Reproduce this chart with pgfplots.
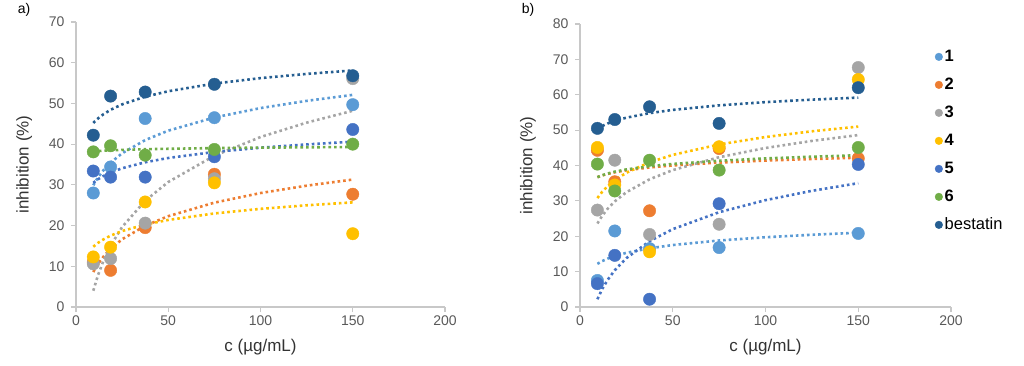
\documentclass[border=0pt]{standalone}
\usepackage{fontspec}
\setmainfont{Liberation Sans}
\usepackage{pgfplots}
\pgfplotsset{compat=1.18}
\definecolor{c1}{HTML}{5B9BD5}
\definecolor{c2}{HTML}{ED7D31}
\definecolor{c3}{HTML}{A5A5A5}
\definecolor{c4}{HTML}{FFC000}
\definecolor{c5}{HTML}{4472C4}
\definecolor{c6}{HTML}{70AD47}
\definecolor{c7}{HTML}{255E91}
\definecolor{axisgray}{HTML}{C8C8C8}
\definecolor{ticktext}{HTML}{595959}
\definecolor{labtext}{HTML}{333333}
\pgfplotsset{
  myax/.style={
    scale only axis,
    axis x line*=bottom, axis y line*=left,
    axis line style={axisgray, line width=1.3pt},
    xmin=0, xmax=200, xtick={0,50,100,150,200}, ymin=0,
    tick align=outside, major tick length=5pt,
    tick style={axisgray, line width=1.1pt},
    ticklabel style={font=\fontsize{14}{16}\selectfont, text=ticktext},
    yticklabel style={xshift=-3pt},
    /pgf/number format/assume math mode=true,
    xlabel={c (µg/mL)}, ylabel={inhibition (\%)},
    label style={font=\fontsize{17}{19}\selectfont, text=labtext},
    x label style={at={(axis description cs:0.5,-0.14)}, anchor=center},
    y label style={at={(axis description cs:-0.14,0.5)}, anchor=center},
    clip=false,
  },
  tr/.style={no marks, line width=2.6pt, dash pattern=on 2.6pt off 3pt, forget plot},
  pt/.style={only marks, mark=*, mark size=6.2pt, mark options={draw=none}, forget plot},
}
\begin{document}
\begin{tikzpicture}
\useasboundingbox (0,0) rectangle (1024pt,365pt);
\node[font=\fontsize{14}{16}\selectfont, anchor=center] at (24pt,355pt) {a)};
\node[font=\fontsize{14}{16}\selectfont, anchor=center] at (528pt,355pt) {b)};
% ---------------- panel a
\begin{axis}[myax, at={(76pt,58pt)}, anchor=south west, width=369pt, height=285pt,
  ymax=70, ytick={0,10,...,70}]
\addplot[tr, c1] coordinates {(9.375,29.9)(12,31.88)(15,33.65)(18.75,35.45)(25,37.76)(37.5,41.0)(50,43.31)(75,46.55)(100,48.86)(125,50.63)(150,52.1)};
\addplot[tr, c2] coordinates {(9.375,8.6)(12,10.62)(15,12.44)(18.75,14.28)(25,16.64)(37.5,19.95)(50,22.31)(75,25.63)(100,27.99)(125,29.80)(150,31.3)};
\addplot[tr, c3] coordinates {(9.375,4.0)(12,7.93)(15,11.47)(18.75,15.05)(25,19.65)(37.5,26.1)(50,30.70)(75,37.15)(100,41.75)(125,45.28)(150,48.2)};
\addplot[tr, c4] coordinates {(9.375,14.8)(12,15.77)(15,16.64)(18.75,17.53)(25,18.66)(37.5,20.25)(50,21.38)(75,22.98)(100,24.11)(125,24.98)(150,25.7)};
\addplot[tr, c5] coordinates {(9.375,30.5)(12,31.40)(15,32.21)(18.75,33.03)(25,34.08)(37.5,35.55)(50,36.60)(75,38.08)(100,39.13)(125,39.93)(150,40.6)};
\addplot[tr, c6] coordinates {(9.375,38.2)(12,38.30)(15,38.39)(18.75,38.48)(25,38.59)(37.5,38.75)(50,38.86)(75,39.03)(100,39.14)(125,39.23)(150,39.3)};
\addplot[tr, c7] coordinates {(9.375,45.2)(12,46.35)(15,47.38)(18.75,48.43)(25,49.77)(37.5,51.65)(50,52.99)(75,54.88)(100,56.22)(125,57.25)(150,58.1)};
\addplot[pt, c1] coordinates {(9.375,28.0)(18.75,34.4)(37.5,46.3)(75,46.5)(150,49.7)};
\addplot[pt, c2] coordinates {(9.375,11.0)(18.75,9.0)(37.5,19.5)(75,32.6)(150,27.7)};
\addplot[pt, c3] coordinates {(9.375,10.6)(18.75,11.9)(37.5,20.6)(75,31.5)(150,56.1)};
\addplot[pt, c4] coordinates {(9.375,12.3)(18.75,14.7)(37.5,25.8)(75,30.5)(150,18.0)};
\addplot[pt, c5] coordinates {(9.375,33.4)(18.75,31.9)(37.5,31.9)(75,36.9)(150,43.6)};
\addplot[pt, c6] coordinates {(9.375,38.1)(18.75,39.6)(37.5,37.3)(75,38.7)(150,40.0)};
\addplot[pt, c7] coordinates {(9.375,42.2)(18.75,51.8)(37.5,52.8)(75,54.7)(150,56.8)};
\end{axis}
% ---------------- panel b
\begin{axis}[myax, at={(580pt,58pt)}, anchor=south west, width=371pt, height=283pt,
  ymax=80, ytick={0,10,...,80},
  legend style={at={(axis cs:191.4,73.4)}, anchor=north west, draw=none, fill=none,
    inner sep=0pt, outer sep=0pt, row sep=9pt,
    font=\fontsize{16.5}{19}\selectfont,
    nodes={text height=12pt, text depth=3pt, inner sep=2pt}},
  legend cell align=left,
  legend image code/.code={\draw[#1] plot coordinates {(0pt,0pt)};}]
\addplot[tr, c1] coordinates {(9.375,12.2)(12,12.98)(15,13.69)(18.75,14.4)(25,15.32)(37.5,16.6)(50,17.52)(75,18.8)(100,19.72)(125,20.42)(150,21.0)};
\addplot[tr, c2] coordinates {(9.375,36.7)(12,37.19)(15,37.63)(18.75,38.08)(25,38.65)(37.5,39.45)(50,40.02)(75,40.83)(100,41.40)(125,41.84)(150,42.2)};
\addplot[tr, c3] coordinates {(9.375,23.6)(12,25.83)(15,27.83)(18.75,29.85)(25,32.45)(37.5,36.1)(50,38.70)(75,42.35)(100,44.95)(125,46.95)(150,48.6)};
\addplot[tr, c4] coordinates {(9.375,30.8)(12,32.60)(15,34.21)(18.75,35.85)(25,37.95)(37.5,40.9)(50,43.0)(75,45.95)(100,48.05)(125,49.67)(150,51.0)};
\addplot[tr, c5] coordinates {(9.375,2.2)(12,5.12)(15,7.74)(18.75,10.4)(25,13.81)(37.5,18.6)(50,22.01)(75,26.8)(100,30.21)(125,32.84)(150,35.0)};
\addplot[tr, c6] coordinates {(9.375,36.7)(12,37.25)(15,37.75)(18.75,38.25)(25,38.89)(37.5,39.8)(50,40.44)(75,41.35)(100,42.0)(125,42.49)(150,42.9)};
\addplot[tr, c7] coordinates {(9.375,50.4)(12,51.18)(15,51.89)(18.75,52.6)(25,53.52)(37.5,54.8)(50,55.72)(75,57.0)(100,57.92)(125,58.62)(150,59.2)};
\addplot[pt, c1] coordinates {(9.375,7.5)(18.75,21.5)(37.5,16.5)(75,16.8)(150,20.8)};
\addplot[pt, c2] coordinates {(9.375,44.3)(18.75,35.4)(37.5,27.2)(75,44.8)(150,42.0)};
\addplot[pt, c3] coordinates {(9.375,27.4)(18.75,41.5)(37.5,20.5)(75,23.4)(150,67.7)};
\addplot[pt, c4] coordinates {(9.375,45.1)(18.75,34.5)(37.5,15.6)(75,45.3)(150,64.3)};
\addplot[pt, c5] coordinates {(9.375,6.6)(18.75,14.6)(37.5,2.2)(75,29.2)(150,40.3)};
\addplot[pt, c6] coordinates {(9.375,40.4)(18.75,32.8)(37.5,41.5)(75,38.7)(150,45.1)};
\addplot[pt, c7] coordinates {(9.375,50.5)(18.75,53.0)(37.5,56.6)(75,51.9)(150,62.0)};
\addlegendimage{only marks, mark=*, mark size=3.8pt, mark options={draw=none}, c1}
\addlegendentry{\textbf{1}}
\addlegendimage{only marks, mark=*, mark size=3.8pt, mark options={draw=none}, c2}
\addlegendentry{\textbf{2}}
\addlegendimage{only marks, mark=*, mark size=3.8pt, mark options={draw=none}, c3}
\addlegendentry{\textbf{3}}
\addlegendimage{only marks, mark=*, mark size=3.8pt, mark options={draw=none}, c4}
\addlegendentry{\textbf{4}}
\addlegendimage{only marks, mark=*, mark size=3.8pt, mark options={draw=none}, c5}
\addlegendentry{\textbf{5}}
\addlegendimage{only marks, mark=*, mark size=3.8pt, mark options={draw=none}, c6}
\addlegendentry{\textbf{6}}
\addlegendimage{only marks, mark=*, mark size=3.8pt, mark options={draw=none}, c7}
\addlegendentry{bestatin}
\end{axis}
\end{tikzpicture}
\end{document}
